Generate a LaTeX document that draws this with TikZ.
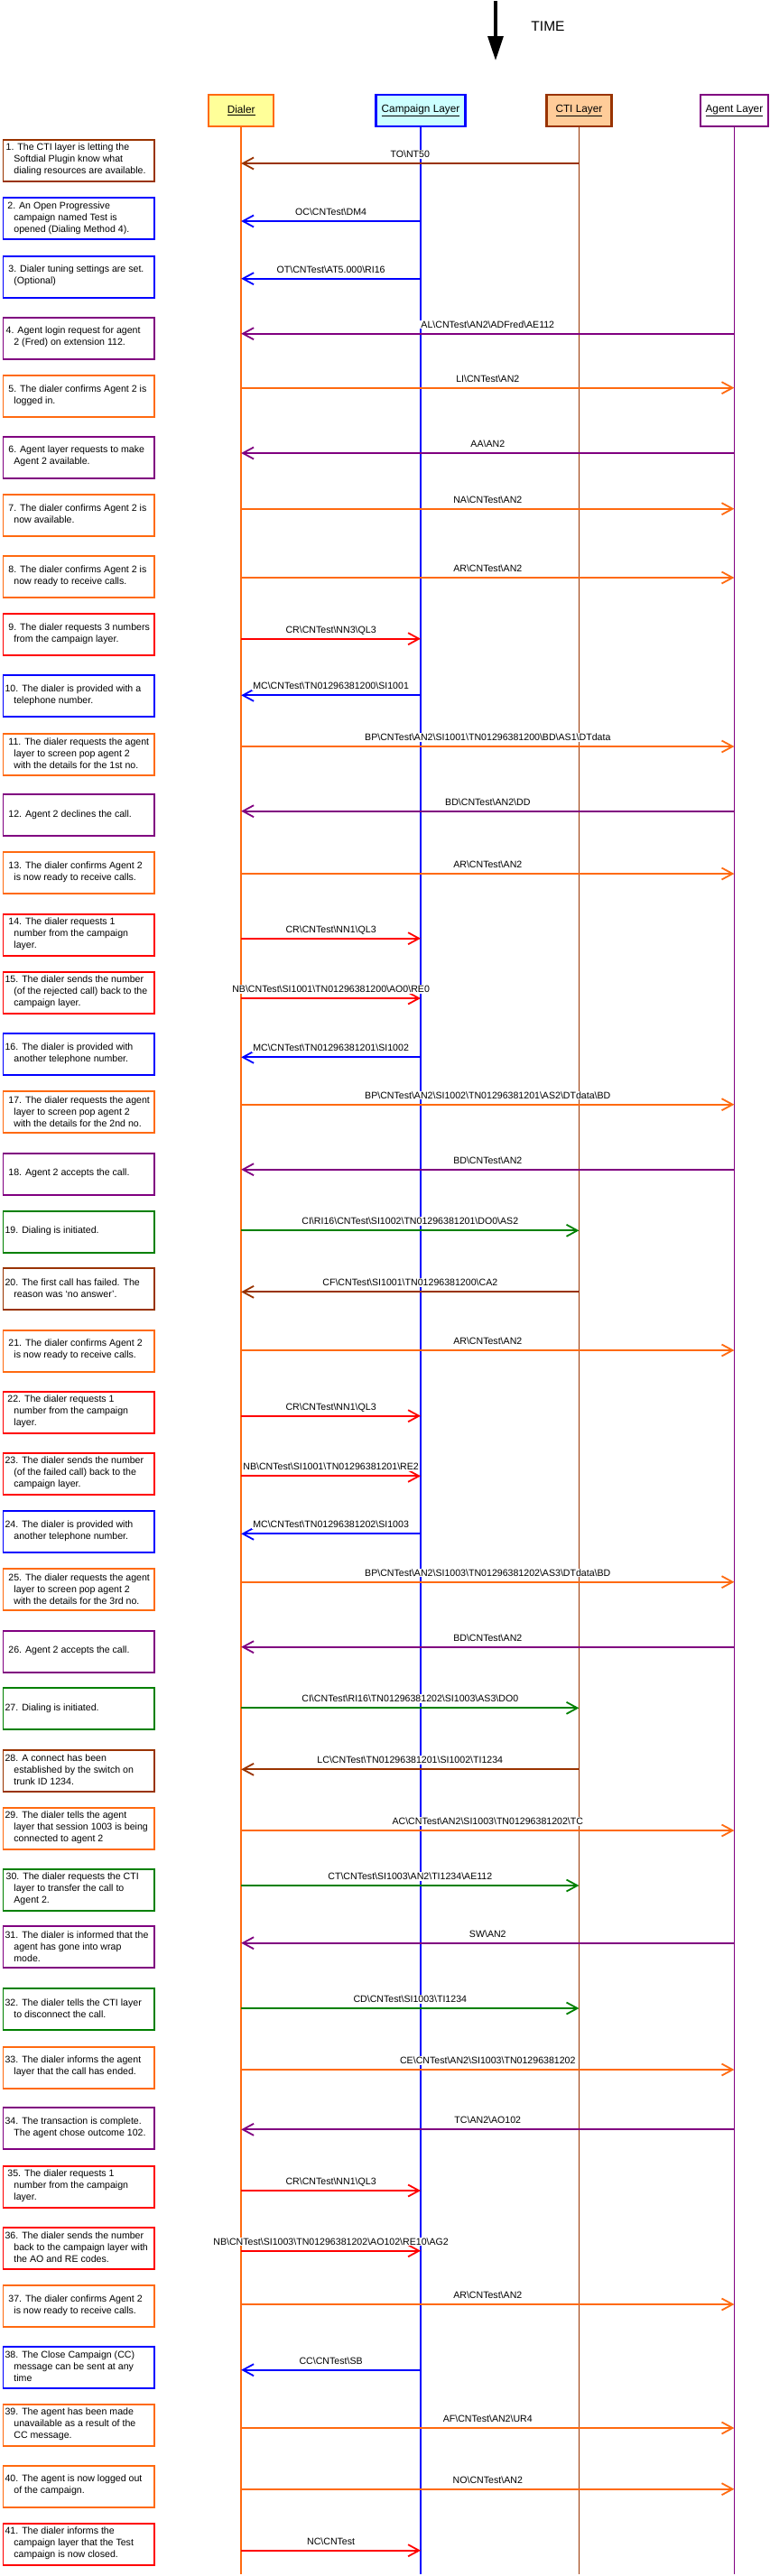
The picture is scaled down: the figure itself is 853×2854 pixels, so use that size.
\documentclass[tikz,border=0pt]{standalone}
\usepackage{fontspec}
\setmainfont{Liberation Sans}
\usetikzlibrary{arrows.meta}
\definecolor{cOra}{HTML}{FF6A10}
\definecolor{cBlu}{HTML}{0000FF}
\definecolor{cBrn}{HTML}{993300}
\definecolor{cPur}{HTML}{800080}
\definecolor{cRed}{HTML}{FF0000}
\definecolor{cGrn}{HTML}{008000}
\definecolor{fYel}{HTML}{FFFF99}
\definecolor{fCya}{HTML}{CCFFFF}
\definecolor{fPea}{HTML}{FFCC99}
\newcommand{\bsl}{\textbackslash}
\newcommand{\msgarrow}[6]{%
  \coordinate (m#1s) at (#3 |- 0,#2);
  \coordinate (m#1t) at (#4 |- 0,#2);
  \draw[msg, draw=#5] (m#1s) -- (m#1t) node[lbl, midway] (l#1) {#6};
}
\newcommand{\stepnote}[5]{%
  \def\nxl{\\\hspace*{\dimexpr15.2pt-#4pt\relax}}%
  \node[note, draw=#3, anchor=north west] (n#1) at (2.5,#2) {};
  \node[notetext] (t#1) at (#4,#2+23) {#5};
}
\begin{document}
\begin{tikzpicture}[x=1pt,y=-1pt,
  head/.style={draw, line width=2.2pt, minimum height=35pt, inner sep=0pt, text=black, font=\fontsize{11.8}{14}\selectfont},
  life/.style={line width=1.8pt},
  msg/.style={line width=1.8pt, -{Straight Barb[length=12pt,width=13pt]}},
  lbl/.style={fill=white, text=black, inner sep=1pt, font=\fontsize{10.6}{13}\selectfont, anchor=base, yshift=6.5pt},
  note/.style={draw, line width=1.8pt, fill=white, minimum width=167.5pt, minimum height=46pt, inner sep=0pt},
  notetext/.style={anchor=west, align=left, inner sep=0pt, text=black, font=\fontsize{10.6}{13}\selectfont}]

\useasboundingbox (0,0) rectangle (853,2854);

% time arrow
\coordinate (tTop) at (549,1);
\coordinate (tTip) at (549,67);
\draw[line width=3.3pt, -{Triangle[length=27pt,width=17pt]}] (tTop) -- (tTip);
\node[font=\fontsize{15.5}{18}\selectfont, inner sep=0pt] (time) at (607,29) {TIME};

% headers
\node[head, draw=cOra, fill=fYel, minimum width=72pt] (dial) at (267.2,122.5) {\underline{Dialer}};
\node[head, draw=cBlu, fill=fCya, minimum width=99pt] (camp) at (466,122.5) {\underline{Campaign Layer}};
\node[head, draw=cBrn, fill=fPea, minimum width=72pt] (cti) at (641.4,122.5) {\underline{CTI Layer}};
\node[head, draw=cPur, fill=white, minimum width=75pt] (agent) at (813.4,122.5) {\underline{Agent Layer}};

% lifelines
\coordinate (dialEnd) at (267.2,2852);
\coordinate (campEnd) at (466,2852);
\coordinate (ctiEnd) at (641.4,2852);
\coordinate (agentEnd) at (813.4,2852);
\draw[life, cOra] (dial.south) -- (dialEnd);
\draw[life, cBlu] (camp.south) -- (campEnd);
\draw[life, cBrn] (cti.south) -- (ctiEnd);
\draw[life, cPur] (agent.south) -- (agentEnd);

% messages
\msgarrow{1}{181}{cti}{dial}{cBrn}{TO\bsl NT50}
\msgarrow{2}{245}{camp}{dial}{cBlu}{OC\bsl CNTest\bsl DM4}
\msgarrow{3}{308.7}{camp}{dial}{cBlu}{OT\bsl CNTest\bsl AT5.000\bsl RI16}
\msgarrow{4}{369.7}{agent}{dial}{cPur}{AL\bsl CNTest\bsl AN2\bsl ADFred\bsl AE112}
\msgarrow{5}{429.7}{dial}{agent}{cOra}{LI\bsl CNTest\bsl AN2}
\msgarrow{6}{502}{agent}{dial}{cPur}{AA\bsl AN2}
\msgarrow{7}{563.7}{dial}{agent}{cOra}{NA\bsl CNTest\bsl AN2}
\msgarrow{8}{640}{dial}{agent}{cOra}{AR\bsl CNTest\bsl AN2}
\msgarrow{9}{707.7}{dial}{camp}{cRed}{CR\bsl CNTest\bsl NN3\bsl QL3}
\msgarrow{10}{770.3}{camp}{dial}{cBlu}{MC\bsl CNTest\bsl TN01296381200\bsl SI1001}
\msgarrow{11}{827}{dial}{agent}{cOra}{BP\bsl CNTest\bsl AN2\bsl SI1001\bsl TN01296381200\bsl BD\bsl AS1\bsl DTdata}
\msgarrow{12}{898.7}{agent}{dial}{cPur}{BD\bsl CNTest\bsl AN2\bsl DD}
\msgarrow{13}{968}{dial}{agent}{cOra}{AR\bsl CNTest\bsl AN2}
\msgarrow{14}{1039.7}{dial}{camp}{cRed}{CR\bsl CNTest\bsl NN1\bsl QL3}
\msgarrow{15}{1106}{dial}{camp}{cRed}{NB\bsl CNTest\bsl SI1001\bsl TN01296381200\bsl AO0\bsl RE0}
\msgarrow{16}{1171.3}{camp}{dial}{cBlu}{MC\bsl CNTest\bsl TN01296381201\bsl SI1002}
\msgarrow{17}{1223.7}{dial}{agent}{cOra}{BP\bsl CNTest\bsl AN2\bsl SI1002\bsl TN01296381201\bsl AS2\bsl DTdata\bsl BD}
\msgarrow{18}{1295.7}{agent}{dial}{cPur}{BD\bsl CNTest\bsl AN2}
\msgarrow{19}{1363.3}{dial}{cti}{cGrn}{CI\bsl RI16\bsl CNTest\bsl SI1002\bsl TN01296381201\bsl DO0\bsl AS2}
\msgarrow{20}{1431.3}{cti}{dial}{cBrn}{CF\bsl CNTest\bsl SI1001\bsl TN01296381200\bsl CA2}
\msgarrow{21}{1496}{dial}{agent}{cOra}{AR\bsl CNTest\bsl AN2}
\msgarrow{22}{1568.7}{dial}{camp}{cRed}{CR\bsl CNTest\bsl NN1\bsl QL3}
\msgarrow{23}{1635.3}{dial}{camp}{cRed}{NB\bsl CNTest\bsl SI1001\bsl TN01296381201\bsl RE2}
\msgarrow{24}{1699.3}{camp}{dial}{cBlu}{MC\bsl CNTest\bsl TN01296381202\bsl SI1003}
\msgarrow{25}{1752.7}{dial}{agent}{cOra}{BP\bsl CNTest\bsl AN2\bsl SI1003\bsl TN01296381202\bsl AS3\bsl DTdata\bsl BD}
\msgarrow{26}{1824.7}{agent}{dial}{cPur}{BD\bsl CNTest\bsl AN2}
\msgarrow{27}{1892.3}{dial}{cti}{cGrn}{CI\bsl CNTest\bsl RI16\bsl TN01296381202\bsl SI1003\bsl AS3\bsl DO0}
\msgarrow{28}{1960.3}{cti}{dial}{cBrn}{LC\bsl CNTest\bsl TN01296381201\bsl SI1002\bsl TI1234}
\msgarrow{29}{2028}{dial}{agent}{cOra}{AC\bsl CNTest\bsl AN2\bsl SI1003\bsl TN01296381202\bsl TC}
\msgarrow{30}{2089}{dial}{cti}{cGrn}{CT\bsl CNTest\bsl SI1003\bsl AN2\bsl TI1234\bsl AE112}
\msgarrow{31}{2152.7}{agent}{dial}{cPur}{SW\bsl AN2}
\msgarrow{32}{2225}{dial}{cti}{cGrn}{CD\bsl CNTest\bsl SI1003\bsl TI1234}
\msgarrow{33}{2293}{dial}{agent}{cOra}{CE\bsl CNTest\bsl AN2\bsl SI1003\bsl TN01296381202}
\msgarrow{34}{2359.3}{agent}{dial}{cPur}{TC\bsl AN2\bsl AO102}
\msgarrow{35}{2427}{dial}{camp}{cRed}{CR\bsl CNTest\bsl NN1\bsl QL3}
\msgarrow{36}{2493.7}{dial}{camp}{cRed}{NB\bsl CNTest\bsl SI1003\bsl TN01296381202\bsl AO102\bsl RE10\bsl AG2}
\msgarrow{37}{2553}{dial}{agent}{cOra}{AR\bsl CNTest\bsl AN2}
\msgarrow{38}{2625.7}{camp}{dial}{cBlu}{CC\bsl CNTest\bsl SB}
\msgarrow{39}{2690}{dial}{agent}{cOra}{AF\bsl CNTest\bsl AN2\bsl UR4}
\msgarrow{40}{2757.7}{dial}{agent}{cOra}{NO\bsl CNTest\bsl AN2}
\msgarrow{41}{2825.7}{dial}{camp}{cRed}{NC\bsl CNTest}

% notes
\stepnote{1}{153.7}{cBrn}{6.5}{1. The CTI layer is letting the\nxl Softdial Plugin know what\nxl dialing resources are available.}
\stepnote{2}{218.3}{cBlu}{8.2}{2. An Open Progressive\nxl campaign named Test is\nxl opened (Dialing Method 4).}
\stepnote{3}{282.7}{cBlu}{9.2}{3. Dialer tuning settings are set.\nxl (Optional)}
\stepnote{4}{350.7}{cPur}{6.5}{4. Agent login request for agent\nxl 2 (Fred) on extension 112.}
\stepnote{5}{415}{cOra}{9.2}{5. The dialer confirms Agent 2 is\nxl logged in.}
\stepnote{6}{482.7}{cPur}{9.2}{6. Agent layer requests to make\nxl Agent 2 available.}
\stepnote{7}{546.7}{cOra}{9.2}{7. The dialer confirms Agent 2 is\nxl now available.}
\stepnote{8}{615}{cOra}{9.2}{8. The dialer confirms Agent 2 is\nxl now ready to receive calls.}
\stepnote{9}{679}{cRed}{9.2}{9. The dialer requests 3 numbers\nxl from the campaign layer.}
\stepnote{10}{747.3}{cBlu}{5.4}{10. The dialer is provided with a\nxl telephone number.}
\stepnote{11}{811.7}{cOra}{9.2}{11. The dialer requests the agent\nxl layer to screen pop agent 2\nxl with the details for the 1st no.}
\stepnote{12}{879.3}{cPur}{9.2}{12. Agent 2 declines the call.}
\stepnote{13}{943.3}{cOra}{9.2}{13. The dialer confirms Agent 2\nxl is now ready to receive calls.}
\stepnote{14}{1011.7}{cRed}{9.2}{14. The dialer requests 1\nxl number from the campaign\nxl layer.}
\stepnote{15}{1075.7}{cRed}{5.4}{15. The dialer sends the number\nxl (of the rejected call) back to the\nxl campaign layer.}
\stepnote{16}{1144}{cBlu}{5.4}{16. The dialer is provided with\nxl another telephone number.}
\stepnote{17}{1208.3}{cOra}{9.2}{17. The dialer requests the agent\nxl layer to screen pop agent 2\nxl with the details for the 2nd no.}
\stepnote{18}{1276.7}{cPur}{9.2}{18. Agent 2 accepts the call.}
\stepnote{19}{1340.7}{cGrn}{5.4}{19. Dialing is initiated.}
\stepnote{20}{1404.3}{cBrn}{5.4}{20. The first call has failed. The\nxl reason was `no answer'.}
\stepnote{21}{1472.7}{cOra}{9.2}{21. The dialer confirms Agent 2\nxl is now ready to receive calls.}
\stepnote{22}{1540.7}{cRed}{8.2}{22. The dialer requests 1\nxl number from the campaign\nxl layer.}
\stepnote{23}{1609}{cRed}{5.4}{23. The dialer sends the number\nxl (of the failed call) back to the\nxl campaign layer.}
\stepnote{24}{1673.3}{cBlu}{5.4}{24. The dialer is provided with\nxl another telephone number.}
\stepnote{25}{1737.3}{cOra}{9.2}{25. The dialer requests the agent\nxl layer to screen pop agent 2\nxl with the details for the 3rd no.}
\stepnote{26}{1805.7}{cPur}{9.2}{26. Agent 2 accepts the call.}
\stepnote{27}{1869.3}{cGrn}{5.4}{27. Dialing is initiated.}
\stepnote{28}{1937.7}{cBrn}{5.4}{28. A connect has been\nxl established by the switch on\nxl trunk ID 1234.}
\stepnote{29}{2001.7}{cOra}{5.4}{29. The dialer tells the agent\nxl layer that session 1003 is being\nxl connected to agent 2}
\stepnote{30}{2070}{cGrn}{6.5}{30. The dialer requests the CTI\nxl layer to transfer the call to\nxl Agent 2.}
\stepnote{31}{2133.3}{cPur}{5.4}{31. The dialer is informed that the\nxl agent has gone into wrap\nxl mode.}
\stepnote{32}{2202.3}{cGrn}{5.4}{32. The dialer tells the CTI layer\nxl to disconnect the call.}
\stepnote{33}{2266.7}{cOra}{5.4}{33. The dialer informs the agent\nxl layer that the call has ended.}
\stepnote{34}{2334.3}{cPur}{5.4}{34. The transaction is complete.\nxl The agent chose outcome 102.}
\stepnote{35}{2398.7}{cRed}{8.2}{35. The dialer requests 1\nxl number from the campaign\nxl layer.}
\stepnote{36}{2467}{cRed}{5.4}{36. The dialer sends the number\nxl back to the campaign layer with\nxl the AO and RE codes.}
\stepnote{37}{2531}{cOra}{9.2}{37. The dialer confirms Agent 2\nxl is now ready to receive calls.}
\stepnote{38}{2599}{cBlu}{5.4}{38. The Close Campaign (CC)\nxl message can be sent at any\nxl time}
\stepnote{39}{2663}{cOra}{5.4}{39. The agent has been made\nxl unavailable as a result of the\nxl CC message.}
\stepnote{40}{2730.7}{cOra}{5.4}{40. The agent is now logged out\nxl of the campaign.}
\stepnote{41}{2795}{cRed}{5.4}{41. The dialer informs the\nxl campaign layer that the Test\nxl campaign is now closed.}
\end{tikzpicture}
\end{document}
